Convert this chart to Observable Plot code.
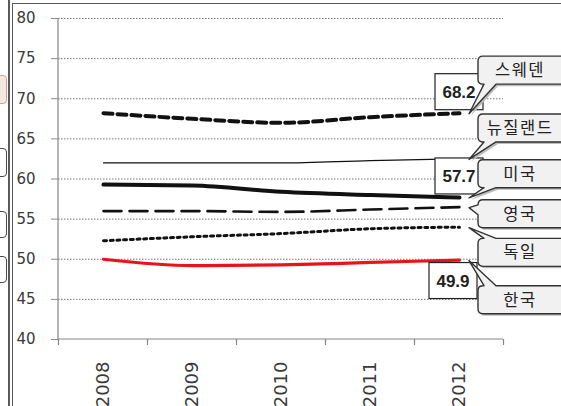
<!DOCTYPE html>
<html>
<head>
<meta charset="utf-8">
<script src="https://cdn.jsdelivr.net/npm/d3@7"></script>
<script src="https://cdn.jsdelivr.net/npm/@observablehq/plot@0.6"></script>
<style>
  html, body { margin: 0; padding: 0; background: #fff; }
  #wrap { position: relative; width: 561px; height: 406px; overflow: hidden; }
  #wrap svg { position: absolute; left: 0; top: 0; }
  .deco { position: absolute; background: #5a5a5a; }
  .sidebox { position: absolute; left: -8px; width: 13px; border: 1.4px solid #4a4a4a; border-radius: 4px; background: #fff; }
</style>
</head>
<body>
<div id="wrap"></div>
<script>
// ---- data ----
const years = ["2008", "2009", "2010", "2011", "2012"];
const countries = ["스웨덴", "뉴질랜드", "미국", "영국", "독일", "한국"];
const sweden     = [68.2, 67.5, 67.0, 67.7, 68.2];
const newZealand = [62.0, 62.0, 62.0, 62.3, 62.5];
const usa        = [59.3, 59.2, 58.4, 58.0, 57.7];
const uk         = [56.0, 56.0, 55.9, 56.2, 56.5];
const germany    = [52.3, 52.8, 53.2, 53.8, 54.0];
const korea      = [50.0, 49.2, 49.3, 49.6, 49.9];
const yTicks = [40, 45, 50, 55, 60, 65, 70, 75, 80];
const labeledCountries = ["스웨덴", "미국", "한국"];
// callout anchor values (annotation layout, in y units)
const calloutY = [73.5, 66.3, 60.6, 55.6, 50.8, 44.9];

const seriesValues = [sweden, newZealand, usa, uk, germany, korea];

// ---- styles ----
const styles = {
  "스웨덴":   {stroke: "#111", strokeWidth: 4, strokeDasharray: "9,5"},
  "뉴질랜드": {stroke: "#111", strokeWidth: 1.2},
  "미국":     {stroke: "#111", strokeWidth: 4},
  "영국":     {stroke: "#111", strokeWidth: 2.6, strokeDasharray: "18,8"},
  "독일":     {stroke: "#111", strokeWidth: 3, strokeDasharray: "3,3.7"},
  "한국":     {stroke: "#e8141c", strokeWidth: 3.2}
};

const lineMarks = countries.map((c, i) => Plot.line(
  years.map((yr, j) => ({year: yr, value: seriesValues[i][j], country: c})),
  {x: "year", y: "value", curve: "monotone-x", ...styles[c]}
));

// axis lines and boundary ticks
function axisLines(index, scales, values, dims) {
  const g = d3.create("svg:g").attr("stroke", "#868686").attr("stroke-width", 1.2).attr("fill", "none");
  const x0 = dims.marginLeft, x1 = dims.width - dims.marginRight;
  const yb = scales.y(yTicks[0]), yt = scales.y(yTicks[yTicks.length - 1]);
  g.append("line").attr("x1", x0).attr("x2", x0).attr("y1", yt).attr("y2", yb);
  g.append("line").attr("x1", x0).attr("x2", x1).attr("y1", yb).attr("y2", yb);
  const step = scales.x(years[1]) - scales.x(years[0]);
  const bounds = years.map(y => scales.x(y) - step / 2).concat([scales.x(years[years.length - 1]) + step / 2]);
  bounds.forEach(bx => g.append("line").attr("x1", bx).attr("x2", bx).attr("y1", yb).attr("y2", yb + 6));
  return g.node();
}

function valueLabels(index, scales) {
  const g = d3.create("svg:g");
  const last = years.length - 1;
  labeledCountries.forEach(c => {
    const i = countries.indexOf(c);
    const v = seriesValues[i][last];
    const px = scales.x(years[last]);
    const py = scales.y(v);
    const below = v < 50.5;
    const cx = below ? px - 6 : px;
    const cy = below ? py + 21 : py - 21;
    g.append("rect").attr("x", cx - 24).attr("y", cy - 18).attr("width", 48).attr("height", 36)
      .attr("fill", "#fff").attr("stroke", "#222").attr("stroke-width", 1.2);
    g.append("text").attr("x", cx).attr("y", cy).attr("dy", "0.36em").attr("text-anchor", "middle")
      .attr("font-family", "Liberation Sans, Arial, sans-serif").attr("font-weight", "bold")
      .attr("font-size", 17).attr("fill", "#222").text(v.toFixed(1));
  });
  return g.node();
}

function calloutPath(L, T, R, B, tx, ty) {
  const r = 5;
  let p = `M${L + r},${T}`;
  if (ty < T + r) p += `L${L + r + 1},${T}L${tx},${ty}L${L + r + 13},${T}`;
  p += `L${R - r},${T}Q${R},${T} ${R},${T + r}L${R},${B - r}Q${R},${B} ${R - r},${B}`;
  if (ty > B - r) p += `L${L + r + 13},${B}L${tx},${ty}L${L + r + 1},${B}`;
  p += `L${L + r},${B}Q${L},${B} ${L},${B - r}`;
  if (ty >= T + r && ty <= B - r) {
    const c = Math.max(T + r + 5, Math.min(B - r - 5, ty));
    p += `L${L},${c + 5}L${tx},${ty}L${L},${c - 5}`;
  }
  p += `L${L},${T + r}Q${L},${T} ${L + r},${T}Z`;
  return p;
}

function callouts(index, scales) {
  const g = d3.create("svg:g");
  const last = years.length - 1;
  const x12 = scales.x(years[last]);
  countries.forEach((c, i) => {
    const v = seriesValues[i][last];
    const tx = x12 + 10, ty = scales.y(v) + 1;
    const cy = scales.y(calloutY[i]);
    const L = x12 + 19, R = L + 92, T = cy - 14, B = cy + 14;
    const d = calloutPath(L, T, R, B, tx, ty);
    g.append("path").attr("d", d).attr("transform", "translate(2,2)").attr("fill", "#bdbdbd").attr("stroke", "none");
    g.append("path").attr("d", d).attr("fill", "#f1f1f1").attr("stroke", "#333").attr("stroke-width", 1.4)
      .attr("stroke-linejoin", "round");
    g.append("text").attr("x", L + 42).attr("y", cy).attr("dy", "0.36em").attr("text-anchor", "middle")
      .attr("font-family", "Noto Sans CJK KR, sans-serif").attr("font-size", 16.5).attr("letter-spacing", 1.5)
      .attr("fill", "#222").text(c);
  });
  return g.node();
}

const chart = Plot.plot({
  width: 561,
  height: 406,
  marginLeft: 58,
  marginRight: 58,
  marginTop: 18,
  marginBottom: 67,
  style: {fontFamily: "DejaVu Sans, Verdana, sans-serif", background: "transparent"},
  x: {type: "point", domain: years, padding: 0.5},
  y: {domain: [40, 80]},
  marks: [
    Plot.gridY(yTicks.filter(t => t > 40), {stroke: "#7a7a7a", strokeOpacity: 1, strokeDasharray: "1.5,1.5"}),
    axisLines,
    Plot.axisY(yTicks, {tickSize: 7, tickPadding: 16, fontSize: 15, fill: "#3a3a3a", stroke: "#8a8a8a", label: null}),
    Plot.axisX({tickSize: 0, tickPadding: 22, tickRotate: -90, fontSize: 18, fill: "#3a3a3a", label: null}),
    ...lineMarks,
    valueLabels,
    callouts
  ]
});

const wrap = document.getElementById("wrap");
wrap.appendChild(chart);

// surrounding frame decoration
function deco(cls, css) {
  const d = document.createElement("div");
  d.className = cls;
  Object.assign(d.style, css);
  wrap.appendChild(d);
}
deco("deco", {left: "8px", top: "0px", width: "1.5px", height: "406px"});
deco("deco", {left: "11.5px", top: "2.5px", width: "1.5px", height: "404px"});
deco("deco", {left: "11.5px", top: "2.5px", width: "550px", height: "1.5px"});
deco("sidebox", {top: "75px", height: "27px", borderColor: "#c9a49a", background: "#f8e6e1"});
deco("sidebox", {top: "148px", height: "27px"});
deco("sidebox", {top: "211px", height: "25px"});
deco("sidebox", {top: "256px", height: "25px"});
</script>
</body>
</html>
